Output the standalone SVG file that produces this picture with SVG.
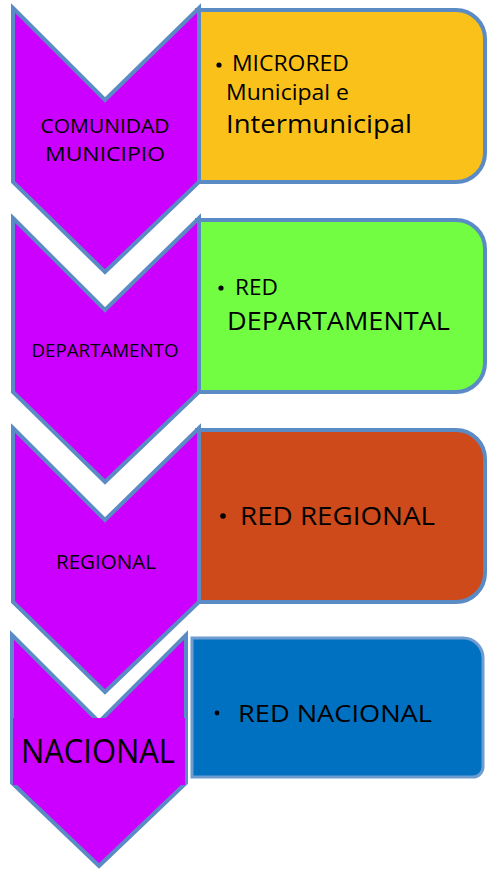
<svg xmlns="http://www.w3.org/2000/svg" width="487" height="869" viewBox="0 0 487 869">
<style>
.chev{fill:#CC00FF;stroke:#5B8BC5;stroke-width:4;stroke-linejoin:miter}
.box{stroke:#5B8BC5;stroke-width:4}
text{font-family:"Open Sans","Liberation Sans",sans-serif;fill:#000}
.lbl{text-anchor:middle}
</style>
<rect width="487" height="869" fill="#fff"/>
<g id="box1">
<path class="box" fill="#FBC11B" d="M197,10 H456 A29,29 0 0 1 485,39 V153 A29,29 0 0 1 456,182 H197 Z"/>
<circle cx="219" cy="65" r="2.6"/>
<text x="232" y="71" font-size="21" textLength="117" lengthAdjust="spacingAndGlyphs">MICRORED</text>
<text x="226" y="100" font-size="22" textLength="123" lengthAdjust="spacingAndGlyphs">Municipal e</text>
<text x="226" y="133" font-size="25" textLength="186" lengthAdjust="spacingAndGlyphs">Intermunicipal</text>
</g>
<g id="box2">
<path class="box" fill="#72FD43" d="M197,220 H456 A29,29 0 0 1 485,249 V363 A29,29 0 0 1 456,392 H197 Z"/>
<circle cx="221" cy="288" r="2.6"/>
<text x="235" y="295" font-size="21" textLength="43" lengthAdjust="spacingAndGlyphs">RED</text>
<text x="227" y="330" font-size="25" textLength="223" lengthAdjust="spacingAndGlyphs">DEPARTAMENTAL</text>
</g>
<g id="box3">
<path class="box" fill="#CF4A1A" d="M197,430 H456 A29,29 0 0 1 485,459 V573 A29,29 0 0 1 456,602 H197 Z"/>
<circle cx="223" cy="516" r="2.8"/>
<text x="240" y="525" font-size="25" textLength="195" lengthAdjust="spacingAndGlyphs">RED REGIONAL</text>
</g>
<g id="box4">
<path fill="#0070C0" stroke="#6E9BD0" stroke-width="3" d="M192,638 H463 A20,20 0 0 1 483,658 V767 A10,10 0 0 1 473,777 H192 Z"/>
<circle cx="217" cy="713" r="2.4"/>
<text x="238" y="722" font-size="24" textLength="194" lengthAdjust="spacingAndGlyphs">RED NACIONAL</text>
</g>
<g id="chev1">
<polygon class="chev" points="13,8 105,100 199,8 199,182 105,272 13,182"/>
<text class="lbl" x="105" y="133" font-size="20" textLength="129" lengthAdjust="spacingAndGlyphs">COMUNIDAD</text>
<text class="lbl" x="105" y="161" font-size="20" textLength="120" lengthAdjust="spacingAndGlyphs">MUNICIPIO</text>
</g>
<g id="chev2">
<polygon class="chev" points="13,218 105,310 199,218 199,392 105,482 13,392"/>
<text class="lbl" x="105" y="357" font-size="19" textLength="147" lengthAdjust="spacingAndGlyphs">DEPARTAMENTO</text>
</g>
<g id="chev3">
<polygon class="chev" points="13,428 105,520 199,428 199,602 105,692 13,602"/>
<text class="lbl" x="106" y="569" font-size="20" textLength="100" lengthAdjust="spacingAndGlyphs">REGIONAL</text>
</g>
<g id="chev4">
<polygon class="chev" stroke="#6E9BD0" points="12,635 99,722 186,635 186,783 99,866 12,783"/>
<rect x="13" y="718" width="172" height="67" fill="#CC00FF"/>
<text class="lbl" x="98" y="763" font-size="32" textLength="154" lengthAdjust="spacingAndGlyphs">NACIONAL</text>
</g>
</svg>
